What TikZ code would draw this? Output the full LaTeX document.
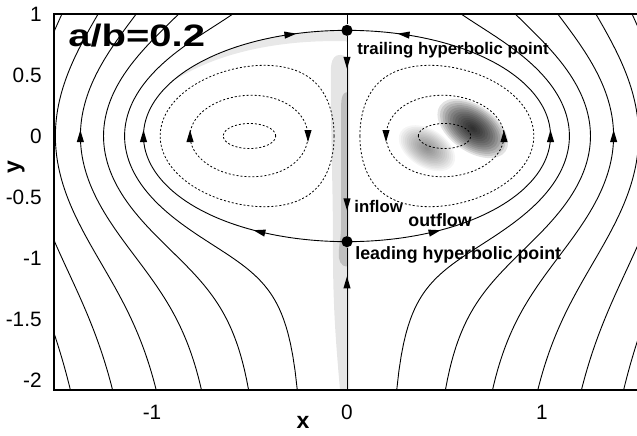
\documentclass[tikz,border=0pt]{standalone}
\usepackage{fontspec}
\setsansfont{Liberation Sans}
\usepackage{graphicx}
\usepackage{tikz}
\usetikzlibrary{calc}
\newcommand\flowtip[3]{\fill[shift={(#1,#2)}, rotate=#3] (3pt,0) -- (-3pt,1.8pt) -- (-3pt,-1.8pt) -- cycle;}
\begin{document}
\begin{tikzpicture}[x=97.5pt, y=61pt, font=\sffamily,
  declare function={ysq(\p,\q)=(exp(2*((\p)+(\q)))*((\p)-0.5)*((\p)-0.5)-((\p)+0.5)*((\p)+0.5))/(1-exp(2*((\p)+(\q))));
                    yup(\p,\q)=sqrt(max(0,ysq(\p,\q)));},
  stream/.style={line width=0.45pt},
  loopln/.style={line width=0.4pt, dash pattern=on 1pt off 1pt},
  frame/.style={line width=1pt},
  hyp/.style={circle, fill=black, inner sep=0pt, minimum size=5.6pt},
  tick/.style={font=\sffamily\fontsize{10.4}{12}\selectfont, inner sep=0pt},
  lbl/.style={font=\sffamily\bfseries\fontsize{8.4}{10}\selectfont, inner sep=0pt, anchor=base west},
  axl/.style={font=\sffamily\bfseries\fontsize{11.5}{13}\selectfont, inner sep=0pt}]
  \useasboundingbox (-1.7795,-2.4508) rectangle (1.4872,1.1148);
  % ---------- shaded field ----------
  \begin{scope}
    \clip (-1.5,-2.08) rectangle (1.5,1);
    \fill[gray!20] (0.012,0.45) to[out=90,in=0] (-0.035,0.665) to[out=180,in=90] (-0.083,0.45)
      to[out=-90,in=90] (-0.072,-0.9) to[out=-90,in=95] (-0.036,-2.08) -- (0.012,-2.08) -- cycle;
    \fill[gray!50] (0.005,0.36) to[out=180,in=90] (-0.03,0.22) -- (-0.03,-0.75) to[out=-90,in=180] (0.005,-1.07) -- cycle;
    \fill[gray!18] plot[domain=-0.88:-0.004, samples=50] ({\x},{yup(abs(\x),0)}) -- (0,0.866) -- (0,0.77)
      -- plot[domain=-0.004:-0.88, samples=50] ({\x},{yup(abs(\x),0)-0.09*sqrt(max(0,(\x+0.88)/0.88))}) -- cycle;
    \foreach \i in {1,...,14}
      { \pgfmathsetmacro\ra{20*(15-\i)/14} \pgfmathsetmacro\rb{11.5*(15-\i)/14}
        \fill[black, fill opacity=0.11, rotate around={-35:(0.645,0.062)}] (0.645,0.062) ellipse [x radius=\ra pt, y radius=\rb pt];
        \pgfmathsetmacro\ra{15.5*(15-\i)/14} \pgfmathsetmacro\rb{9.5*(15-\i)/14}
        \fill[black, fill opacity=0.04, rotate around={-32:(0.41,-0.1)}] (0.41,-0.1) ellipse [x radius=\ra pt, y radius=\rb pt]; }
  \end{scope}
  % ---------- hyperbolic points ----------
  \node[hyp] (trail) at (0,0.866) {};
  \node[hyp] (lead) at (0,-0.866) {};
  % ---------- streamlines ----------
  \begin{scope}[samples=150]
    \clip (-1.5,-2.08) rectangle (1.5,1);
    \draw[stream] (0,1) -- (trail) -- (lead) -- (0,-2.08);
    \foreach \sd in {1,-1}
    { \begin{scope}[xscale=\sd]
      \draw[stream] (trail) -- plot[domain=1:90, samples=80] ({1.0437*sin(\x)},{yup(1.0437*sin(\x),0)})
        -- plot[domain=90:179, samples=80] ({1.0437*sin(\x)},{-yup(1.0437*sin(\x),0)}) -- (lead);
      \foreach \xo/\lev in {1.1409/0.2, 1.2489/0.4, 1.3674/0.6, 1.4958/0.8, 1.6332/1.0, 1.7784/1.2}
        { \pgfmathsetmacro\smax{sqrt(\xo-\lev-0.03)}
          \draw[stream] plot[domain=-\smax:0] ({\xo-(\x)*(\x)},{-yup(\xo-(\x)*(\x),-\lev)})
            -- plot[domain=0:\smax] ({\xo-(\x)*(\x)},{yup(\xo-(\x)*(\x),-\lev)}); }
      \foreach \lo/\hi/\lev/\fy in {0.0657/0.9584/0.2/1, 0.2003/0.8050/0.65/1, 0.3656/0.6347/1.5/0.75}
        { \draw[loopln] plot[domain=0:180, samples=80] ({(\lo+\hi)/2-(\hi-\lo)/2*cos(\x)},{\fy*yup((\lo+\hi)/2-(\hi-\lo)/2*cos(\x),\lev)})
            -- plot[domain=180:360, samples=80] ({(\lo+\hi)/2-(\hi-\lo)/2*cos(\x)},{-\fy*yup((\lo+\hi)/2-(\hi-\lo)/2*cos(\x),\lev)}) -- cycle; }
      \end{scope} }
  \end{scope}
  % ---------- arrows on the lines ----------
  \foreach \ax/\ay/\aa in {-1.3674/0/90, 1.3674/0/90, -1.0437/0/90, 1.0437/0/90,
      -0.805/0/90, -0.2/0/-90, 0.2/0/-90, 0.805/0/90,
      -0.29/0.833/7, 0.29/0.833/173, -0.45/-0.784/166, 0.45/-0.784/14,
      0/0.6/-90, 0/-0.56/-90, 0/-1.2/90}
    { \flowtip{\ax}{\ay}{\aa} }
  % ---------- frame and labels ----------
  \draw[frame] (-1.5,-2.08) rectangle (1.5,1);
  \node[anchor=base west, inner sep=0pt] (ttl) at (-1.431,0.730) {\scalebox{1.29}[1]{\fontsize{15.5}{17}\selectfont\bfseries a/b=0.2}};
  \node[lbl] (traillbl) at (0.051,0.672) {trailing hyperbolic point};
  \node[lbl, font=\sffamily\bfseries\fontsize{8.9}{10}\selectfont] (leadlbl) at (0.041,-1.016) {leading hyperbolic point};
  \node[lbl] (inlbl) at (0.036,-0.623) {inflow};
  \node[lbl, font=\sffamily\bfseries\fontsize{8.9}{10}\selectfont] (outlbl) at (0.313,-0.738) {outflow};
  \foreach \v [count=\i] in {1,0.5,0,-0.5,-1,-1.5,-2}
    { \node[tick, anchor=east] (ytick\i) at (-1.564,\v) {\v}; }
  \foreach \v [count=\i] in {-1,0,1}
    { \node[tick] (xtick\i) at (\v,-2.262) {\v}; }
  \node[axl] (xlab) at (-0.226,-2.344) {x};
  \node[axl, rotate=90] (ylab) at (-1.697,-0.254) {y};
\end{tikzpicture}
\end{document}
